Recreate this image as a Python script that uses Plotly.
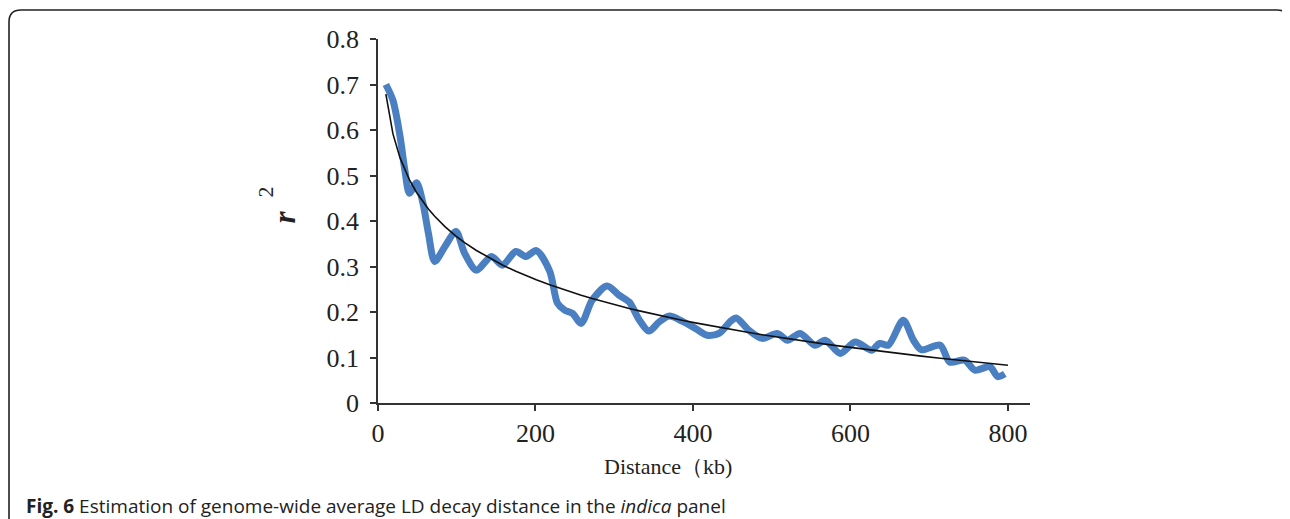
import numpy as np
import plotly.graph_objects as go

# LD decay data
distance_kb = [10, 19, 28, 34, 40, 49, 57, 64, 72, 85, 99, 110, 125, 144, 158, 175, 188, 201,
               218, 228, 237, 247, 258, 272, 291, 306, 319, 332, 344, 357, 370, 386, 403, 418,
               433, 448, 455, 471, 488, 507, 520, 536, 555, 568, 587, 606, 627, 637, 648, 667,
               680, 690, 714, 726, 745, 758, 777, 787, 796]
r2_values = [0.700, 0.665, 0.586, 0.513, 0.461, 0.484, 0.440, 0.373, 0.311, 0.344, 0.377, 0.329,
             0.292, 0.322, 0.303, 0.333, 0.322, 0.335, 0.290, 0.219, 0.204, 0.197, 0.175, 0.226,
             0.257, 0.237, 0.222, 0.182, 0.158, 0.178, 0.191, 0.180, 0.164, 0.149, 0.153, 0.180,
             0.187, 0.160, 0.142, 0.153, 0.138, 0.153, 0.127, 0.138, 0.109, 0.134, 0.116, 0.131,
             0.127, 0.182, 0.138, 0.117, 0.127, 0.090, 0.094, 0.072, 0.080, 0.058, 0.064]

x_ticks = [0, 200, 400, 600, 800]
y_ticks = [0, 0.1, 0.2, 0.3, 0.4, 0.5, 0.6, 0.7, 0.8]
y_tick_text = ["0", "0.1", "0.2", "0.3", "0.4", "0.5", "0.6", "0.7", "0.8"]

# logarithmic trendline fitted to the data
coef = np.polyfit(np.log(distance_kb), r2_values, 1)
fit_x = np.array([10] + distance_kb[1:] + [800], dtype=float)
fit_y = coef[0] * np.log(fit_x) + coef[1]

OFF = 8  # page body margin
W, H = 1290, 519
L, R, T, B = 370, 268, 31, 124
PW, PH = W - L - R, H - T - B

def px(x):
    return (x - OFF - L) / PW

def py(y):
    return (H - B - (y - OFF)) / PH

fig = go.Figure()
fig.add_trace(go.Scatter(x=distance_kb, y=r2_values, mode="lines",
                         line=dict(color="#4a7fc1", width=7, shape="spline", smoothing=0.8),
                         hoverinfo="skip"))
fig.add_trace(go.Scatter(x=fit_x, y=fit_y, mode="lines",
                         line=dict(color="#111111", width=1.6),
                         hoverinfo="skip"))

serif = "Liberation Serif, Times New Roman, serif"
axis_common = dict(showline=True, linecolor="#333333", linewidth=1.6, ticks="outside",
                   ticklen=6, tickwidth=1.6, tickcolor="#333333", showgrid=False,
                   zeroline=False, tickfont=dict(family=serif, size=26, color="#222222"))
fig.update_xaxes(range=[0, 828], tickvals=x_ticks, **axis_common)
fig.update_yaxes(range=[0, 0.8], tickvals=y_ticks, ticktext=y_tick_text,
                 ticklabelstandoff=6, **axis_common)

# rounded frame
rr = 12
path = (f"M {px(9)},{py(540)} L {px(9)},{py(10 + rr)} Q {px(9)},{py(10)} {px(9 + rr)},{py(10)} "
        f"L {px(1289 - rr)},{py(10)} Q {px(1289)},{py(10)} {px(1289)},{py(10 + rr)} L {px(1289)},{py(540)}")
fig.add_shape(type="path", path=path, xref="paper", yref="paper",
              line=dict(color="#222222", width=1.6))

fig.add_annotation(x=px(264), y=py(217), xref="paper", yref="paper", showarrow=False,
                   text="<b><i>r</i></b>", textangle=-90,
                   font=dict(family=serif, size=31, color="#222222"))
fig.add_annotation(x=px(251), y=py(192), xref="paper", yref="paper", showarrow=False,
                   text="2", textangle=-90,
                   font=dict(family=serif, size=22, color="#222222"))
fig.add_annotation(x=px(668), y=py(481), xref="paper", yref="paper", showarrow=False,
                   text="Distance（kb)",
                   font=dict(family=serif, size=22, color="#222222"))
fig.add_annotation(x=px(24), y=py(506), xref="paper", yref="paper", showarrow=False,
                   xanchor="left", yanchor="middle",
                   text="<b>Fig. 6</b> Estimation of genome-wide average LD decay distance in the <i>indica</i> panel",
                   font=dict(family="Open Sans, sans-serif", size=19, color="#222222"))

fig.update_layout(width=W, height=H, margin=dict(l=L, r=R, t=T, b=B),
                  plot_bgcolor="white", paper_bgcolor="white", showlegend=False)
fig.write_html("out.html")
